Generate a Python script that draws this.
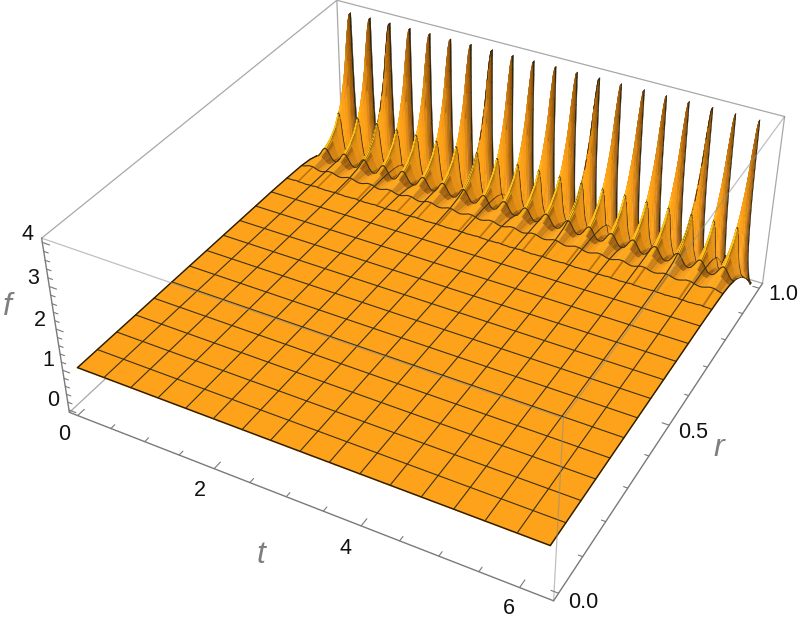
import numpy as np, matplotlib
matplotlib.use("Agg")
import matplotlib.pyplot as plt, seaborn as sns

# ---- values ----
peak_t = [0.157,0.471,0.785,1.10,1.41,1.73,2.04,2.36,2.67,2.98,3.30,3.61,3.93,4.24,4.56,4.87,5.18,5.50,5.81,6.13]
t_end = 6.283
phase = [0,.02,.04,.07,.1,.15,.2,.3,.4,.5,.75,1]      # fraction of half a ripple away from its crest
r_rows = [0,.0625,.125,.1875,.25,.3125,.375,.4375,.5,.5625,.625,.6875,.75,.8125,.85,.875,.90,.92,.9375,.95,.96,.97,.98,.985,.99,.995,1.0]
flat = [1.0]*12
f_rows = [flat]*12 + [
 [1.01,1.01,1.01,1.01,1.01,1.01,1.00,1.00,1.00,1.00,1.00,0.99],
 [1.03,1.03,1.03,1.03,1.03,1.03,1.03,1.02,1.01,1.00,.98,.97],
 [1.08,1.08,1.08,1.08,1.08,1.07,1.06,1.05,1.02,1.00,.95,.93],
 [1.15,1.15,1.15,1.14,1.14,1.13,1.12,1.08,1.04,.99,.90,.87],
 [1.28,1.28,1.27,1.27,1.26,1.23,1.20,1.13,1.05,.97,.83,.78],
 [1.47,1.46,1.46,1.45,1.43,1.38,1.32,1.19,1.05,.93,.74,.68],
 [1.76,1.76,1.74,1.72,1.67,1.58,1.47,1.23,1.02,.86,.63,.57],
 [2.00,2.00,1.98,1.93,1.87,1.72,1.56,1.23,.96,.77,.53,.47],
 [2.35,2.33,2.30,2.22,2.10,1.85,1.60,1.18,.87,.67,.44,.39],
 [2.75,2.72,2.65,2.50,2.30,1.95,1.60,1.05,.73,.54,.34,.30],
 [3.35,3.30,3.20,3.00,2.70,2.17,1.60,.95,.60,.40,.23,.20],
 [3.60,3.55,3.45,3.20,2.85,2.20,1.65,1.00,.62,.42,.18,.15],
 [3.85,3.80,3.60,3.25,2.85,2.20,1.70,1.10,.70,.45,.15,.10],
 [3.98,3.85,3.65,3.25,2.85,2.20,1.75,1.15,.75,.48,.12,.05],
 [3.98,3.85,3.65,3.20,2.80,2.20,1.80,1.20,.80,.50,.10,0]]
mesh_t = [0,.39,.785,1.18,1.57,1.96,2.36,2.75,3.14,3.53,3.93,4.32,4.71,5.11,5.50,5.89,6.283]
mesh_r = [0,.0625,.125,.1875,.25,.3125,.375,.4375,.5,.5625,.625,.6875,.75,.8125,.875,.9375,1.0]
t_ticks = [0,2,4,6]; t_labels = ["0","2","4","6"]
r_ticks = [0.0,0.5,1.0]; r_labels = ["0.0","0.5","1.0"]
f_ticks = [0,1,2,3,4]; f_labels = ["0","1","2","3","4"]
t_minor = [x*.5 for x in range(13)]
r_minor = [x*.1 for x in range(11)]
f_minor = [x*.2 for x in range(21)]

# ---- limits and camera ----
t0,t1,r0,r1,z0,z1 = -0.126,6.409,-0.02,1.02,-0.0601,4.0957
sns.set_theme(style="white")
plt.rcParams['font.family'] = ['Liberation Sans','DejaVu Sans']
W,H = 800,625
fig = plt.figure(figsize=(W/100,H/100),dpi=100)
ax = fig.add_axes([45.08/W,-24.02/H,752.55/W,752.55/H],projection='3d',computed_zorder=False)
ax.set_xlim(t0,t1); ax.set_ylim(r0,r1); ax.set_zlim(z0,z1)
ax.view_init(36.0737,-61.3906,0.1671)
ax.set_proj_type('persp',focal_length=0.4416)
ax.set_box_aspect((1,0.9971,0.3989))
ax.set_axis_off()

# ---- surface grid ----
ph = np.array(phase); rows = np.array(r_rows); tab = np.array(f_rows)
half = (peak_t[1]-peak_t[0])/2
tc=[];zc=[]
for a in peak_t:
    for i in range(11,0,-1): tc.append(a-ph[i]*half); zc.append(i)
    tc.append(a); zc.append(0)
    for i in range(1,11): tc.append(a+ph[i]*half); zc.append(i)
tc.append(t_end); zc.append(11)
tc=np.array(tc); zc=np.array(zc); Zg=tab[:,zc]

wx,wy,wz = 1/(t1-t0),0.9971/(r1-r0),0.3989/(z1-z0)
dt=np.gradient(Zg,tc,axis=1)*wz/wx
dr=np.gradient(Zg,rows,axis=0)*wz/wy
nn=np.sqrt(dt**2+dr**2+1); nt=-dt/nn; nr=-dr/nn
RR=rows[:,None]*np.ones_like(Zg)
base=np.array([1.0,.635,.10]); yellow=np.array([1.0,.85,.12]); dark=np.array([.45,.24,.03]); line=np.array([.18,.15,.06])
yw=np.exp(-((-nr-.6)/.35)**2)*np.clip(1.25-np.abs(nt),0,1)
yw=np.clip(yw*np.clip((.948-RR)/.015,0,1),0,1)
ridge=np.clip((RR-.955)/.04,0,1)**1.3*.85
mid=.7*np.exp(-((nt-.6)/.3)**2)*(RR<.93)
back=np.clip(nr,0,1)*.85
dw=np.clip(np.maximum.reduce([ridge,mid,back]),0,1)
C=base[None,None]*(1-yw[...,None])+yellow[None,None]*yw[...,None]
C=C*(1-dw[...,None])+dark[None,None]*dw[...,None]

def expand(c,marks,widths):
    idx={int(np.argmin(np.abs(c-m))):w for m,w in zip(marks,widths)}
    out=[];mp=[];dk=[]
    for i,v in enumerate(c):
        if i in idx:
            d=idx[i]
            out+= [v-d,v+d]; mp+=[i,i]; dk+=[True,False]
        else:
            out.append(v); mp.append(i); dk.append(False)
    return np.array(out),np.array(mp),np.array(dk)
col_w=[.0022 if zc[int(np.argmin(np.abs(tc-m)))]==0 else .007 for m in mesh_t]
rE,rm,rd=expand(rows,mesh_r,[.0016]*16+[.0035])
tE,tm,td=expand(tc,mesh_t,col_w)
Z=Zg[np.ix_(rm,tm)]
FC=C[np.ix_(rm,tm)]
hi=rows[rm]>=.875
FC[rd&(rows[rm]>.9),:]=line
FC[np.ix_(hi,td)]=line
FC=np.dstack([FC,np.ones(FC.shape[:2])])
T,R=np.meshgrid(tE,rE)

# plain sheet under the low part, so no seams show between the thin facets
under_r=rows[rows<=.8125]
under_j=[int(np.argmin(np.abs(tc-m))) for m in mesh_t]
Tu,Ru=np.meshgrid(tc[under_j],under_r)
ax.plot_surface(Tu,Ru,Zg[np.ix_(rows<=.8125,under_j)],color=tuple(base),rstride=1,cstride=1,shade=False,linewidth=.3,antialiased=True,zorder=1.9)
ax.plot_surface(T,R,Z,facecolors=FC,rstride=1,cstride=1,shade=False,linewidth=.25,antialiased=True,zorder=2)

# mesh on the low part of the sheet, from the same table
lc='#3d3110'
for m in mesh_r:
    i=int(np.argmin(np.abs(rows-m)))
    if rows[i]<=.875:
        edge=i==0
        ax.plot(tc,np.full_like(tc,rows[i]),Zg[i],color='#241b06' if edge else lc,lw=1.0 if edge else .8,zorder=2.5,clip_on=False)
low=rows<=.875
for m in mesh_t:
    j=int(np.argmin(np.abs(tc-m)))
    edge=j in (0,len(tc)-1)
    ax.plot(np.full(low.sum(),tc[j]),rows[low],Zg[low,j],color='#241b06' if edge else lc,lw=1.0 if edge else .8,zorder=2.5,clip_on=False)

# ---- box ----
def seg(a,b,z,color='#8c8c8c',lw=.9,alpha=1):
    ax.plot([a[0],b[0]],[a[1],b[1]],[a[2],b[2]],color=color,lw=lw,alpha=alpha,zorder=z,clip_on=False,solid_capstyle='round')
A,B,C_,D=(t0,r0,z0),(t1,r0,z0),(t1,r1,z0),(t0,r1,z0)
E,F,G,Hh=(t0,r0,z1),(t1,r0,z1),(t1,r1,z1),(t0,r1,z1)
for a,b in [(A,D),(D,C_),(D,Hh),(E,Hh),(Hh,G),(C_,G)]:
    seg(a,b,1,color='#a8a8a8')
for a,b in [(A,B),(B,C_),(A,E)]:
    seg(a,b,3,color='#7a7a7a',lw=1.0)
for a,b in [(E,F),(F,G),(F,B)]:
    seg(a,b,3,color='#8c8c8c',lw=.9,alpha=.55)

# ---- ticks ----
for v in t_minor:
    L=.02 if v in t_ticks else .012
    seg((v,r0,z0),(v,r0+L*(r1-r0),z0),3,color='#7a7a7a',lw=.8)
for v in r_minor:
    L=.014 if round(v,1) in r_ticks else .008
    seg((t1,v,z0),(t1-L*(t1-t0),v,z0),3,color='#7a7a7a',lw=.8)
for v in f_minor:
    L=.016 if round(v,1) in f_ticks else .01
    seg((t0,r0,v),(t0+L*(t1-t0),r0,v),3,color='#7a7a7a',lw=.8)

# ---- text ----
def px(x,y,s,**k):
    fig.text(x/W,1-y/H,s,ha='center',va='center',**k)
for s,(x,y) in zip(f_labels,[(53,400),(48,360),(40,320),(33,278),(27,235)]):
    px(x,y,s,fontsize=15.5,color='#111111')
for s,(x,y) in zip(t_labels,[(64,434),(200,490),(345,548),(509,609)]):
    px(x,y,s,fontsize=15.5,color='#111111')
for s,(x,y) in zip(r_labels,[(583,602),(693,432),(783,295)]):
    px(x,y,s,fontsize=15.5,color='#111111')
for s,(x,y) in [('f',(7,307)),('t',(261,555)),('r',(719,448))]:
    px(x,y,s,fontsize=23,color='#7f7f7f',style='italic')
fig.savefig('out.png',dpi=100)
